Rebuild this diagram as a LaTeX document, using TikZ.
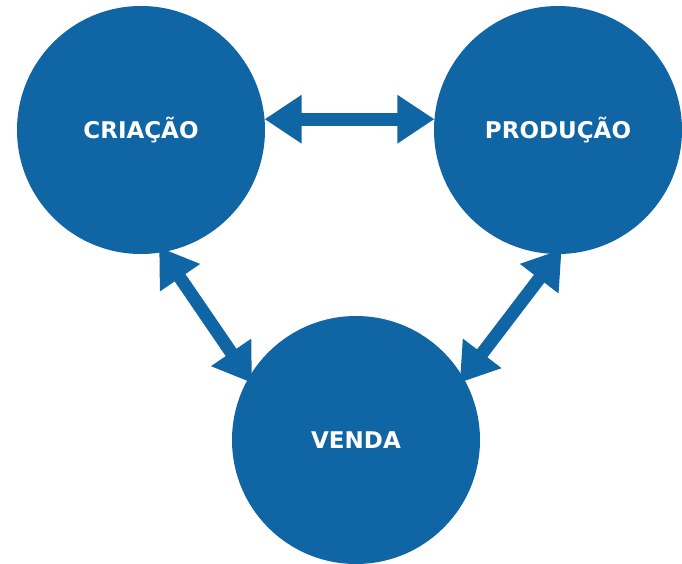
\documentclass[tikz,border=0pt]{standalone}
\usepackage{fontspec}
\setmainfont{DejaVu Sans}
\usepackage{tikz}
\usetikzlibrary{arrows.meta}
\definecolor{bluecirc}{RGB}{16,101,164}

\begin{document}
\begin{tikzpicture}
  [x=1pt,y=-1pt,
   every node/.style={shape=circle,minimum size=248pt,inner sep=0pt,outer sep=0pt,
     fill=bluecirc,text=white,font=\fontsize{23}{28}\selectfont\bfseries},
   link/.style={line width=13pt,draw=bluecirc,
     {Triangle[length=37pt,width=46pt]}-{Triangle[length=37pt,width=46pt]}}]
\useasboundingbox (0,0) rectangle (682,563);

\node (cri) at (141,130) {CRIAÇÃO};
\node (pro) at (558,130) {PRODUÇÃO};
\node (ven) at (356,440) {VENDA};

\draw [link] (cri.5) -- (pro.175) ;
\draw [link,shorten <=-6pt,shorten >=-6pt] (cri.280) -- (ven.150) ;
\draw [link,shorten <=-6pt,shorten >=-6pt] (pro.270) -- (ven.30) ;
\end{tikzpicture}
\end{document}
